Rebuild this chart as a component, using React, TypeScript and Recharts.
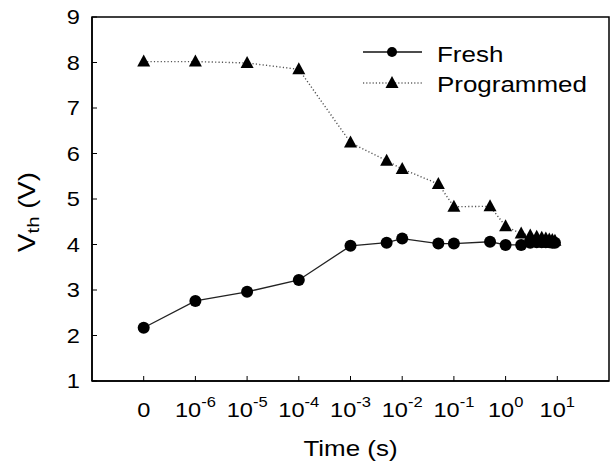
import React from "react";
import { LineChart, Line, XAxis, YAxis, ReferenceArea, Legend } from "recharts";

// Times in seconds (0 is drawn at the left-most decade position)
const freshTimes = [0, 1e-6, 1e-5, 1e-4, 1e-3, 5e-3, 1e-2, 5e-2, 1e-1, 0.5, 1, 2, 3, 4, 5, 6, 7, 8, 9];
const freshVth = [2.17, 2.76, 2.96, 3.22, 3.97, 4.04, 4.13, 4.02, 4.02, 4.06, 3.99, 3.99, 4.04, 4.05, 4.05, 4.05, 4.05, 4.04, 4.04];

const progTimes = [0, 1e-6, 1e-5, 1e-4, 1e-3, 5e-3, 1e-2, 5e-2, 1e-1, 0.5, 1, 2, 3, 4, 5, 6, 7, 8, 9];
const progVth = [8.02, 8.02, 7.99, 7.85, 6.24, 5.84, 5.66, 5.33, 4.83, 4.84, 4.4, 4.24, 4.2, 4.17, 4.15, 4.13, 4.11, 4.1, 4.08];

const xTickPos = [-7, -6, -5, -4, -3, -2, -1, 0, 1];
const xTickBase = ["0", "10", "10", "10", "10", "10", "10", "10", "10"];
const xTickExp = ["", "-6", "-5", "-4", "-3", "-2", "-1", "0", "1"];
const yTicks = [1, 2, 3, 4, 5, 6, 7, 8, 9];

const seriesNames = ["Fresh", "Programmed"];

const pos = (t: number) => (t === 0 ? -7 : Math.log10(t));
const freshData = freshTimes.map((t, i) => ({ x: pos(t), y: freshVth[i] }));
const progData = progTimes.map((t, i) => ({ x: pos(t), y: progVth[i] }));

const FONT = "'Liberation Sans', Arial, Helvetica, sans-serif";
const SX = 1.18;

const XTick = (props: any) => {
  const { x, y, payload } = props;
  const i = xTickPos.indexOf(payload.value);
  if (i < 0) return null;
  return (
    <text
      transform={`translate(${x},${y + 36}) scale(${SX},1)`}
      textAnchor="middle"
      fontFamily={FONT}
      fontSize={20}
      fill="#000"
    >
      {xTickBase[i]}
      {xTickExp[i] ? (
        <tspan fontSize={14} dy={-10}>
          {xTickExp[i]}
        </tspan>
      ) : null}
    </text>
  );
};

const YTick = (props: any) => {
  const { x, y, payload } = props;
  return (
    <text
      transform={`translate(${x},${y + 7}) scale(${SX},1)`}
      textAnchor="end"
      fontFamily={FONT}
      fontSize={20}
      fill="#000"
    >
      {payload.value}
    </text>
  );
};

const Triangle = (props: any) => {
  const { cx, cy, index } = props;
  if (cx == null || cy == null) return null;
  return (
    <polygon
      key={`tri-${index}`}
      points={`${cx},${cy - 7} ${cx - 6.5},${cy + 5} ${cx + 6.5},${cy + 5}`}
      fill="#000"
    />
  );
};

const Circle = (props: any) => {
  const { cx, cy, index } = props;
  if (cx == null || cy == null) return null;
  return <circle key={`c-${index}`} cx={cx} cy={cy} r={6} fill="#000" />;
};

const LegendContent = () => (
  <svg width={611} height={110} style={{ display: "block" }}>
    <line x1={363} y1={52} x2={422} y2={52} stroke="#111" strokeWidth={1.5} />
    <circle cx={392} cy={52} r={5} fill="#000" />
    <text transform={`translate(437,62) scale(${SX},1)`} fontFamily={FONT} fontSize={22} fill="#000">
      {seriesNames[0]}
    </text>
    <line x1={363} y1={83} x2={422} y2={83} stroke="#666" strokeWidth={1.3} strokeDasharray="1.2 2" />
    <polygon points="392,76 385.5,88 398.5,88" fill="#000" />
    <text transform={`translate(437,92) scale(${SX},1)`} fontFamily={FONT} fontSize={22} fill="#000">
      {seriesNames[1]}
    </text>
  </svg>
);

export default function App() {
  return (
    <div style={{ position: "absolute", left: 0, top: 0, width: 611, height: 466, background: "#fff" }}>
      <LineChart width={611} height={466} margin={{ top: 17, right: 2, left: 0, bottom: 0 }}>
        <XAxis
          dataKey="x"
          type="number"
          domain={[-8, 2]}
          ticks={xTickPos}
          interval={0}
          height={85}
          tickSize={-5}
          tickMargin={5}
          tick={<XTick />}
          axisLine={{ stroke: "#000", strokeWidth: 1.5 }}
          tickLine={{ stroke: "#000", strokeWidth: 1 }}
          allowDataOverflow
          label={{
            content: (p: any) => {
              const vb = p.viewBox || { x: 92, y: 381, width: 517 };
              return (
                <text
                  transform={`translate(${vb.x + vb.width / 2},456) scale(${SX},1)`}
                  textAnchor="middle"
                  fontFamily={FONT}
                  fontSize={22}
                  fill="#000"
                >
                  Time (s)
                </text>
              );
            },
          }}
        />
        <YAxis
          type="number"
          domain={[1, 9]}
          ticks={yTicks}
          interval={0}
          width={92}
          tickSize={-5}
          tickMargin={17}
          tick={<YTick />}
          axisLine={{ stroke: "#000", strokeWidth: 1.5 }}
          tickLine={{ stroke: "#000", strokeWidth: 1 }}
          allowDataOverflow
          label={{
            content: () => (
              <text
                transform={`translate(35,212) scale(1,1.2) rotate(-90)`}
                textAnchor="middle"
                fontFamily={FONT}
                fontSize={23}
                fill="#000"
              >
                V
                <tspan fontSize={17} dy={4}>th</tspan>
                <tspan fontSize={23} dy={-4}> (V)</tspan>
              </text>
            ),
          }}
        />
        <ReferenceArea x1={-8} x2={2} y1={1} y2={9} fill="none" stroke="#000" strokeWidth={1.5} ifOverflow="visible" />
        <Line
          data={freshData}
          dataKey="y"
          name={seriesNames[0]}
          stroke="#222"
          strokeWidth={1.3}
          dot={<Circle />}
          activeDot={false}
          isAnimationActive={false}
        />
        <Line
          data={progData}
          dataKey="y"
          name={seriesNames[1]}
          stroke="#555"
          strokeWidth={1.4}
          strokeDasharray="1.2 2.2"
          dot={<Triangle />}
          activeDot={false}
          isAnimationActive={false}
        />
        <Legend
          layout="horizontal"
          verticalAlign="middle"
          align="center"
          content={<LegendContent />}
          wrapperStyle={{ position: "absolute", left: 0, top: 0, width: 611, height: 110 }}
        />
      </LineChart>
    </div>
  );
}
